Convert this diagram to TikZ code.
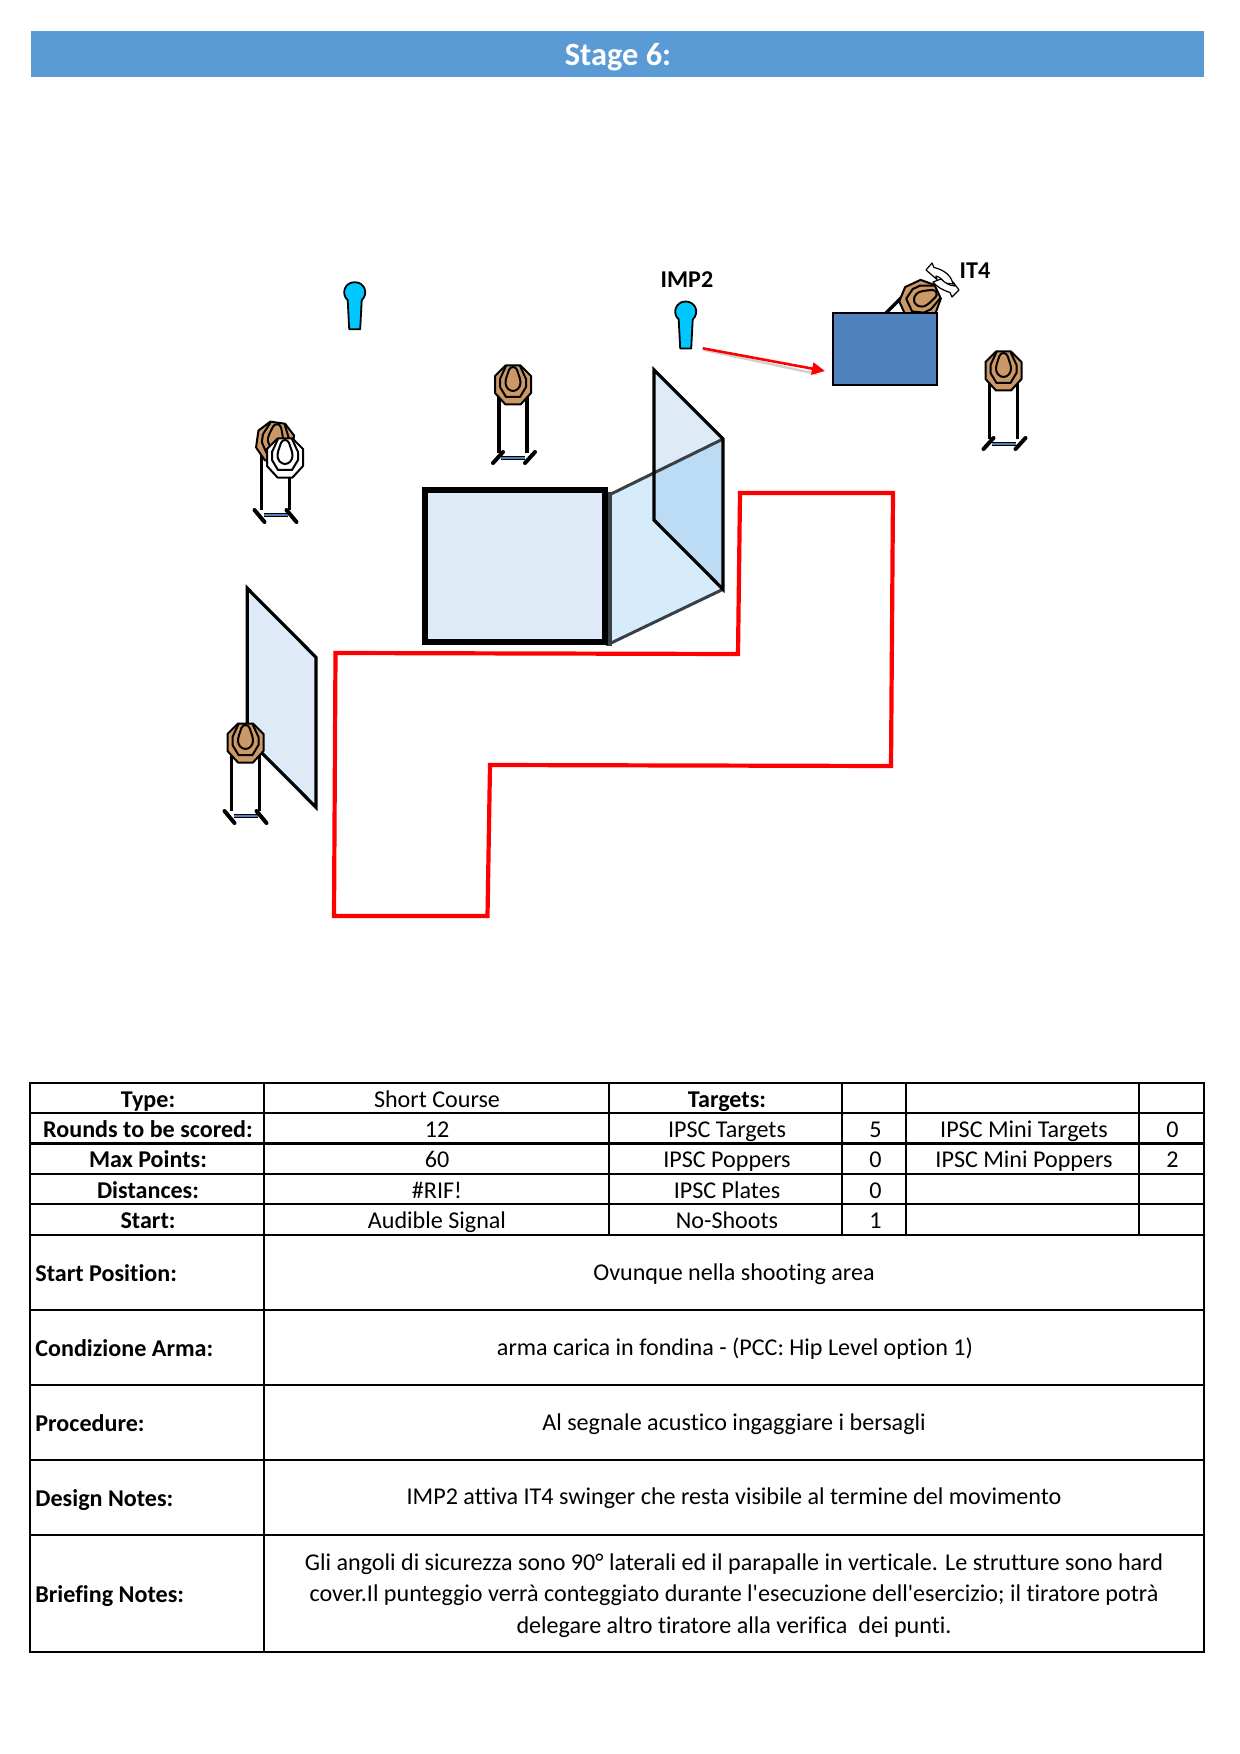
\documentclass[tikz,border=0pt]{standalone}
\usepackage{fontspec}
\setmainfont[Ligatures=NoCommon]{Carlito}
\newfontfamily\straightfont[Ligatures=NoCommon]{Carlito}
\usetikzlibrary{arrows.meta}
\definecolor{barblue}{HTML}{5B9BD5}
\definecolor{pinblue}{HTML}{00C8FF}
\definecolor{tan}{HTML}{CC9966}
\definecolor{panel}{HTML}{DEEBF7}
\definecolor{sidepanel}{HTML}{D6ECFB}
\definecolor{overlap}{HTML}{BCDCF5}
\definecolor{steel}{HTML}{4F81BD}
\definecolor{edge}{HTML}{3A3F45}
\tikzset{
  x=0.5pt,y=-0.5pt,
  gridline/.style={line width=1.25pt,black},
  cell/.style={font=\fontsize{12.05}{14}\selectfont,inner sep=0pt,anchor=center,text height=8.2pt,text depth=2.6pt},
  headcell/.style={cell,font=\fontsize{12.05}{14}\selectfont\bfseries},
  lefthead/.style={headcell,anchor=west},
  wall/.style={draw=black,line width=1.6pt,line join=miter},
  targetface/.pic={
    \draw[fill=#1,line width=1pt,line join=round] (-7.5,-19.5)--(7.5,-19.5)--(18,-9)--(18,8)--(7.5,19.5)--(-7.5,19.5)--(-18,8)--(-18,-9)--cycle;
    \draw[line width=1pt,line join=round] (-7,-19)--(-13,-6)--(-13,2)--(-7,12)--(7,12)--(13,2)--(13,-6)--(7,-19);
    \draw[line width=1pt,line join=round,rounded corners=1.5pt] (-3,-18)--(-7.5,-5)--(-7.5,1)--(-3,6)--(3,6)--(7.5,1)--(7.5,-5)--(3,-18)--cycle;
  },
  pin/.pic={
    \draw[fill=pinblue,line width=0.9pt,line join=round]
      (-5.5,37.5)--(-7,8.5) .. controls (-14,2) and (-10,-9.5) .. (0,-9.5) .. controls (10,-9.5) and (14,2) .. (7,8.5) -- (5.5,37.5)--cycle;
  },
}
\newcommand{\standbar}[2]{%
  \draw[line width=1.6pt] (#1-14,#2) -- (#1-14,#2+68);
  \draw[line width=1.6pt] (#1+14,#2) -- (#1+14,#2+68);
  \draw[line width=1.7pt] (#1-12,#2+73) -- (#1+12,#2+73);
  \draw[line width=0.6pt,steel] (#1-12,#2+73) -- (#1+12,#2+73);
}
\newcommand{\standF}[2]{%
  \standbar{#1}{#2}
  \draw[line width=2pt,line cap=round] (#1-20,#2+78) -- (#1-10,#2+67);
  \draw[line width=2pt,line cap=round] (#1+12,#2+78) -- (#1+22,#2+67);
}
\newcommand{\standB}[2]{%
  \standbar{#1}{#2}
  \draw[line width=2pt,line cap=round] (#1-21,#2+68) -- (#1-11,#2+80);
  \draw[line width=2pt,line cap=round] (#1+11,#2+68) -- (#1+21,#2+80);
}
\begin{document}
\begin{tikzpicture}
\useasboundingbox (0,0) rectangle (1240,1754);
\fill[white] (0,0) rectangle (1240,1754);
% title bar
\fill[barblue] (31,31) rectangle (1204,77);
\node[font=\fontsize{16.2}{19}\selectfont\bfseries,text=white,inner sep=0pt] (title) at (618,57) {Stage 6:};

% left panel
\draw[wall,fill=panel] (247.3,588.3)--(316,657.3)--(316,807.3)--(247.3,738.3)--cycle;
% right structure
\fill[panel] (654,370)--(723,439)--(723,589.3)--(654,520)--cycle;
\fill[sidepanel] (609,495)--(723,439)--(723,589.3)--(609,644)--cycle;
\fill[overlap] (654,473)--(723,439)--(723,589.3)--(654,520)--cycle;
\draw[edge,line width=1.5pt] (609,495)--(723,439);
\draw[edge,line width=1.5pt] (609,644)--(723,589.3);
\draw[edge,line width=2.6pt] (609,492)--(609,646);
\draw[wall] (654,370)--(723,439)--(723,589.3)--(654,520)--cycle;
% main box
\draw[draw=black,fill=panel,line width=3pt] (425,490.3) rectangle (605,642.3);

% shooting area
\draw[red,line width=2.1pt,line join=miter] (335.5,653)--(738,654)--(740,493)--(893,493)--(891,766)--(490,765)--(487.5,916)--(334,916)--cycle;

% targets
\standF{513}{385}
\pic at (513,385) {targetface=tan};
\standF{1003.5}{371}
\pic at (1003.5,371) {targetface=tan};
\standB{245.5}{743}
\pic at (245.5,743) {targetface=tan};
\standB{275.5}{442}
\pic[rotate=-8] at (275,442) {targetface=tan};
\pic at (285,458) {targetface=white};
% poppers
\pic at (354.7,291.7) {pin};
\pic at (685.7,311) {pin};
\node[font=\fontsize{12.05}{14}\selectfont\bfseries,inner sep=0pt] (imp) at (687,280) {IMP2};
\node[font=\fontsize{12.05}{14}\selectfont\bfseries,inner sep=0pt] (itf) at (975,271) {IT4};

% swinger
\draw[line width=1.6pt] (886,313)--(903,296);
\pic[rotate=-65] at (920,300) {targetface=tan};
\node[draw=black,fill=steel,line width=1.2pt,minimum width=52pt,minimum height=36pt,inner sep=0pt] (cover) at (885,349) {};
% swing arrows
\draw[fill=white,line width=0.6pt,line join=round] (926,270)--(932,263)--(934,267.5) .. controls (944,270) and (951,275) .. (953,284) -- (944,283) .. controls (943,280) and (940,277) .. (936,276)--(937,279.5)--cycle;
\draw[fill=white,line width=0.6pt,line join=round] (959,290)--(952,297)--(950,292.5) .. controls (942,290) and (936,286) .. (933,282) -- (941,279) .. controls (945,283) and (950,286) .. (955,286) --(953,282)--cycle;

% activation arrow
\coordinate (impfoot) at (702.7,348.3);
\coordinate (covertip) at (825,371);
\draw[black!18,line width=1.2pt] ([xshift=0.6pt,yshift=-0.8pt]impfoot) -- ([xshift=-4pt,yshift=-1.5pt]covertip);
\draw[red,line width=1.3pt,-{Triangle[length=6.5pt,width=6pt]}] (impfoot) -- (covertip);

% table
\draw[gridline] (30,1083) rectangle (1204,1652);
\foreach \yy in {1113,1143.5,1174,1204,1235,1310,1385,1460,1535} \draw[gridline] (30,\yy)--(1204,\yy);
\draw[gridline] (264,1083)--(264,1652);
\foreach \xx in {609,842,906,1139} \draw[gridline] (\xx,1083)--(\xx,1235);

\node[headcell] (ra) at (148,1102) {Type:};
\node[headcell] (rb) at (148,1132) {Rounds to be scored:};
\node[headcell] (rc) at (148,1162) {Max Points:};
\node[headcell] (rd) at (148,1193) {Distances:};
\node[headcell] (re) at (148,1223) {Start:};

\node[cell] (sa) at (437,1102) {Short Course};
\node[cell] (sb) at (437,1132) {12};
\node[cell] (sc) at (437,1162) {60};
\node[cell] (sd) at (437,1193) {\#RIF!};
\node[cell] (se) at (437,1223) {Audible Signal};

\node[headcell] (ta) at (727,1102) {Targets:};
\node[cell] (tb) at (727,1132) {IPSC Targets};
\node[cell] (tc) at (727,1162) {IPSC Poppers};
\node[cell] (td) at (727,1193) {IPSC Plates};
\node[cell] (te) at (727,1223) {No-Shoots};

\node[cell] (ub) at (875.5,1132) {5};
\node[cell] (uc) at (875.5,1162) {0};
\node[cell] (ud) at (875.5,1193) {0};
\node[cell] (ue) at (875.5,1223) {1};

\node[cell] (vb) at (1024,1132) {IPSC Mini Targets};
\node[cell] (vc) at (1024,1162) {IPSC Mini Poppers};
\node[cell] (wb) at (1172.5,1132) {0};
\node[cell] (wc) at (1172.5,1162) {2};

\node[lefthead] (la) at (35,1276) {Start Position:};
\node[lefthead] (lb) at (35,1351) {Condizione Arma:};
\node[lefthead] (lc) at (35,1426) {Procedure:};
\node[lefthead] (ld) at (35,1501) {Design Notes:};
\node[lefthead] (le) at (35,1597) {Briefing Notes:};

\node[cell] (ca) at (734,1275) {Ovunque nella shooting area};
\node[cell] (cb) at (735,1350) {arma carica in fondina - (PCC: Hip Level option 1)};
\node[cell] (cc) at (734,1425) {Al segnale acustico ingaggiare i bersagli};
\node[cell] (cd) at (734,1499) {IMP2 attiva IT4 swinger che resta visibile al termine del movimento};
\node[cell] (ce1) at (734,1564.5) {Gli angoli di sicurezza sono 90° laterali ed il parapalle in verticale. Le strutture sono hard};
\node[cell] (ce2) at (734,1596) {cover.Il punteggio verrà conteggiato durante l{\straightfont'}esecuzione dell{\straightfont'}esercizio; il tiratore potrà};
\node[cell] (ce3) at (734,1627.5) {delegare altro tiratore alla verifica\ \ dei punti.};
\end{tikzpicture}
\end{document}
